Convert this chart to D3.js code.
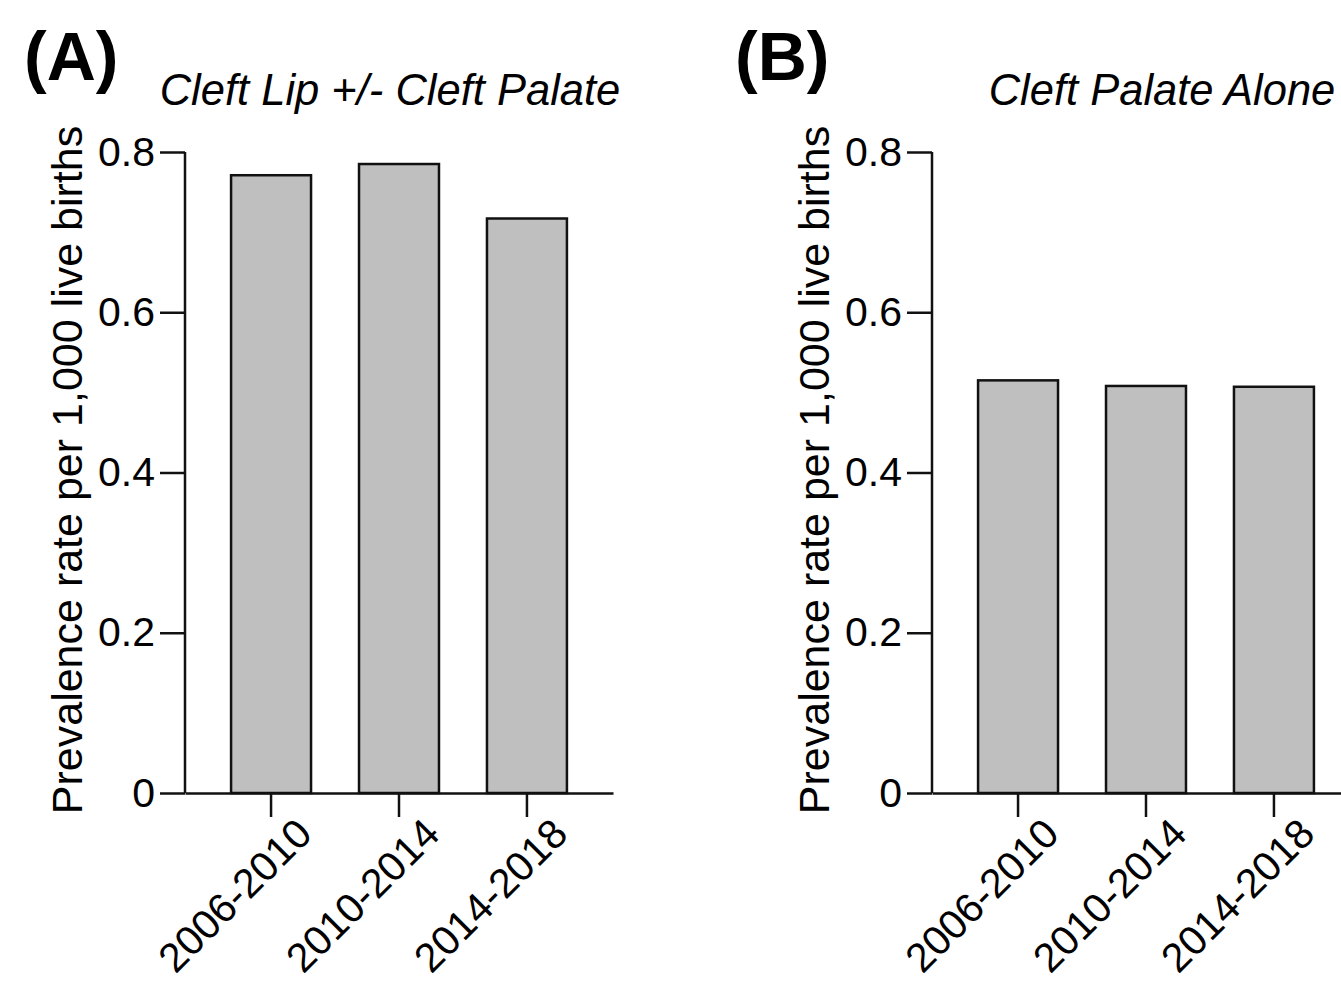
<!DOCTYPE html>
<html>
<head>
<meta charset="utf-8">
<script src="https://cdn.jsdelivr.net/npm/d3@7"></script>
<style>
  body { margin: 0; background: #fff; }
  svg { display: block; font-family: "Liberation Sans", Arial, sans-serif; }
</style>
</head>
<body>
<svg id="chart" width="1341" height="985"></svg>
<script>
// data
const periods = ["2006-2010", "2010-2014", "2014-2018"];
const cleftLipValues = [0.771, 0.785, 0.717];
const cleftPalateValues = [0.515, 0.508, 0.507];
const yTicks = [0, 0.2, 0.4, 0.6, 0.8];

const svg = d3.select("#chart");

const panels = [
  { tag: "(A)", title: "Cleft Lip +/- Cleft Palate", values: cleftLipValues, x0: 185, tagX: 24, titleX: 390 },
  { tag: "(B)", title: "Cleft Palate Alone", values: cleftPalateValues, x0: 932, tagX: 735, titleX: 1162 }
];

const yTop = 152, yBottom = 793;

panels.forEach(function (p) {
  const g = svg.append("g");

  const x = d3.scaleBand()
    .domain(periods)
    .range([p.x0, p.x0 + 428])
    .paddingInner(0.375)
    .paddingOuter(0.36);

  const y = d3.scaleLinear().domain([0, 0.8]).range([yBottom, yTop]);

  // bars
  g.selectAll("rect")
    .data(p.values)
    .enter().append("rect")
      .attr("x", (d, i) => x(periods[i]))
      .attr("y", d => y(d))
      .attr("width", x.bandwidth())
      .attr("height", d => y(0) - y(d))
      .attr("fill", "#bfbfbf")
      .attr("stroke", "#111")
      .attr("stroke-width", 2.5);

  // y axis
  const yAxis = g.append("g")
    .attr("transform", "translate(" + p.x0 + ",0)")
    .call(d3.axisLeft(y).tickValues(yTicks).tickSize(25).tickPadding(5)
      .tickFormat(d => d === 0 ? "0" : d3.format(".1f")(d)));
  yAxis.select(".domain").attr("stroke", "#111").attr("stroke-width", 2.5)
    .attr("d", "M0," + yTop + "V" + yBottom);
  yAxis.selectAll(".tick line").attr("stroke", "#111").attr("stroke-width", 2.5);
  yAxis.selectAll(".tick text").attr("font-size", 41).attr("fill", "#000")
    .attr("font-family", "Liberation Sans, Arial, sans-serif");

  // x axis
  const xAxis = g.append("g")
    .attr("transform", "translate(0," + yBottom + ")")
    .call(d3.axisBottom(x).tickSize(24).tickSizeOuter(0));
  xAxis.select(".domain").attr("stroke", "#111").attr("stroke-width", 2.5);
  xAxis.selectAll(".tick line").attr("stroke", "#111").attr("stroke-width", 2.5);
  xAxis.selectAll(".tick text")
    .attr("font-size", 41).attr("fill", "#000")
    .attr("font-family", "Liberation Sans, Arial, sans-serif")
    .attr("text-anchor", "end")
    .attr("dy", null)
    .attr("y", null)
    .attr("transform", "translate(43,43) rotate(-45)");

  // y axis title
  g.append("text")
    .attr("transform", "translate(" + (p.x0 - 103) + ",470) rotate(-90)")
    .attr("text-anchor", "middle")
    .attr("font-size", 43)
    .text("Prevalence rate per 1,000 live births");

  // panel tag
  g.append("text")
    .attr("x", p.tagX).attr("y", 80)
    .attr("font-size", 68).attr("font-weight", "bold")
    .text(p.tag);

  // panel title
  g.append("text")
    .attr("x", p.titleX).attr("y", 105)
    .attr("text-anchor", "middle")
    .attr("font-size", 43.5).attr("font-style", "italic")
    .text(p.title);
});
</script>
</body>
</html>
